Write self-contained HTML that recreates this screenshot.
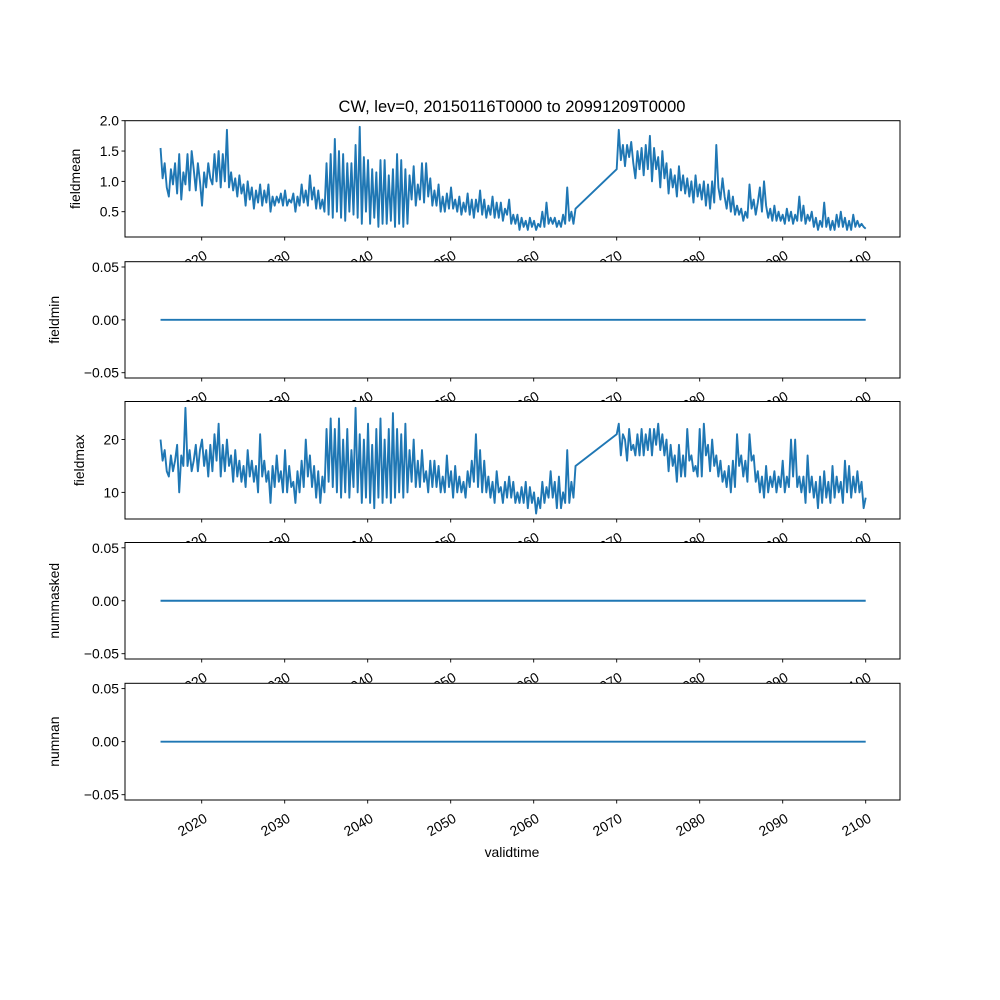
<!DOCTYPE html>
<html><head><meta charset="utf-8"><style>
html,body{margin:0;padding:0;background:#fff;}
svg{display:block;font-family:"Liberation Sans","DejaVu Sans",sans-serif;}
</style></head><body>
<svg id="fig" width="1000" height="1000" viewBox="0 0 1000 1000"></svg>
<script>
// ---- data ----
const seg1Start = 2015.04, seg2Start = 2070.0, stepYears = 0.25, endYear = 2100.0;
const xTicks = [2020, 2030, 2040, 2050, 2060, 2070, 2080, 2090, 2100];
const xTickLabels = ["2020","2030","2040","2050","2060","2070","2080","2090","2100"];
const meanSeg1 = [
1.55,1.05,1.3,0.9, 0.75,1.2,0.95,1.3, 0.8,1.45,0.7,1.15, 0.95,1.45,0.85,1.5, 1.2,0.85,1.3,1.0,
0.6,1.15,0.9,1.3, 1.05,0.95,1.45,1.0, 1.5,0.9,1.45,1.0, 1.85,0.9,1.15,0.85, 1.05,0.75,1.1,0.8,
0.95,0.6,1.0,0.7, 0.9,0.55,0.85,0.65, 0.95,0.6,0.85,0.65, 0.95,0.5,0.75,0.6, 0.75,0.65,0.8,0.6,
0.85,0.6,0.7,0.65, 0.8,0.5,0.75,0.6, 0.95,0.65,0.85,0.6, 1.1,0.7,0.9,0.55, 0.85,0.55,0.7,0.5,
1.3,0.45,1.45,0.4, 1.7,0.5,1.5,0.4, 1.45,0.35,1.3,0.5, 1.3,0.45,1.6,0.4, 1.9,0.3,1.4,0.5,
1.35,0.3,1.2,0.4, 1.15,0.25,1.35,0.3, 1.35,0.3,1.1,0.35, 1.2,0.25,1.45,0.3, 1.35,0.25,1.2,0.3,
1.1,0.7,1.25,0.6, 0.95,0.7,1.3,0.65, 1.3,0.75,1.05,0.6, 0.85,0.6,0.95,0.5, 0.75,0.5,0.8,0.55,
0.9,0.55,0.7,0.5, 0.75,0.45,0.65,0.5, 0.8,0.45,0.7,0.4, 0.7,0.5,0.85,0.45, 0.7,0.4,0.6,0.45,
0.75,0.4,0.65,0.4, 0.65,0.35,0.55,0.45, 0.7,0.3,0.45,0.3, 0.45,0.2,0.4,0.25, 0.35,0.2,0.4,0.25,
0.35,0.2,0.3,0.25, 0.5,0.25,0.65,0.3, 0.4,0.3,0.4,0.25, 0.35,0.25,0.45,0.3, 0.9,0.35,0.5,0.3,
0.55];
const meanSeg2 = [
1.2,1.85,1.35,1.6, 1.25,1.6,1.4,1.65, 1.3,1.05,1.5,1.2, 1.55,1.1,1.6,1.2, 1.75,1.0,1.55,1.2,
1.4,0.9,1.5,1.05, 1.3,0.8,1.2,0.9, 1.1,0.75,1.25,0.85, 1.1,0.8,1.05,0.75, 1.0,0.65,1.1,0.75,
0.95,0.7,1.0,0.6, 0.95,0.55,1.0,0.65, 1.6,0.9,0.7,1.05, 0.75,0.55,0.85,0.5, 0.75,0.45,0.6,0.45,
0.55,0.35,0.5,0.4, 0.95,0.55,0.7,0.45, 0.65,0.9,0.5,1.0, 0.6,0.4,0.55,0.35, 0.6,0.35,0.5,0.35,
0.45,0.3,0.55,0.35, 0.5,0.3,0.45,0.35, 0.75,0.35,0.6,0.3, 0.45,0.35,0.5,0.25, 0.4,0.2,0.35,0.25,
0.65,0.25,0.4,0.2, 0.35,0.2,0.45,0.25, 0.5,0.25,0.4,0.2, 0.35,0.2,0.45,0.25, 0.35,0.25,0.3,0.25,
0.22];
const maxSeg1 = [
20,16,18,14, 13,17,14,16, 19,10,17,15, 26,15,18,14, 16,19,14,18,
20,15,18,13, 19,14,21,16, 23,13,19,14, 20,15,17,12, 18,13,16,12,
15,11,18,13, 16,12,15,10, 21,13,16,12, 14,8,15,11, 17,12,14,10,
18,10,15,11, 12,8,14,10, 16,11,20,13, 17,11,15,9, 14,8,13,10,
22,12,24,11, 22,10,24,9, 20,10,22,9, 18,11,26,10, 21,8,20,9,
23,8,19,7, 22,9,24,8, 20,9,22,8, 25,9,22,10, 21,9,23,10,
18,12,20,11, 16,11,18,12, 14,10,16,11, 16,11,15,10, 13,10,17,11,
14,9,15,10, 13,10,12,9, 14,11,16,12, 21,11,18,10, 16,10,13,9,
12,8,14,10, 11,8,12,9, 13,9,12,8, 10,8,11,8, 12,7,11,8,
10,6,9,7, 12,8,11,9, 14,9,12,7, 13,7,10,8, 18,8,12,9,
15];
const maxSeg2 = [
21,23,17,21, 20,16,22,18, 19,17,21,17, 22,17,21,18, 22,17,22,19,
23,18,21,17, 20,14,19,15, 17,12,19,13, 17,13,22,16, 17,14,15,13,
22,13,23,17, 19,14,20,15, 17,13,16,12, 14,11,15,10, 16,11,21,15,
17,13,16,12, 21,16,17,12, 14,10,13,9, 15,10,13,11, 14,10,13,11,
16,10,13,11, 20,13,20,11, 13,10,13,8, 17,10,13,9, 12,7,13,8,
14,9,12,8, 15,9,13,10, 12,8,16,10, 15,9,13,10, 14,10,12,7,
9];
const zeroValues = [0, 0];
const zeroYears = [2015.04, 2100.0];
const meanTicks = [0.5, 1.0, 1.5, 2.0];
const meanTickLabels = ["0.5","1.0","1.5","2.0"];
const maxTicks = [10, 20];
const maxTickLabels = ["10","20"];
const zeroTicks = [-0.05, 0, 0.05];
const zeroTickLabels = ["\u22120.05","0.00","0.05"];

// ---- layout ----
const NS = "http://www.w3.org/2000/svg";
const svg = document.getElementById("fig");
const AX_L = 125, AX_R = 900;
function xScale(yr){ return 201.7 + (yr - 2020) * 8.3; }
function mk(tag, attrs, parent){
  const e = document.createElementNS(NS, tag);
  for (const k in attrs) e.setAttribute(k, attrs[k]);
  (parent || svg).appendChild(e);
  return e;
}
function seriesPts(vals, start, yS){
  return vals.map((v,i)=> xScale(Math.min(start + i*stepYears, endYear)).toFixed(2) + "," + yS(v).toFixed(2));
}

const panels = [
  {name:"fieldmean", top:120.7, bot:237, ymin:0.083, ymax:2.0, ticks:meanTicks, labels:meanTickLabels, ylabX:80},
  {name:"fieldmin", top:261.7, bot:378, ymin:-0.055, ymax:0.055, ticks:zeroTicks, labels:zeroTickLabels, ylabX:59},
  {name:"fieldmax", top:401.5, bot:519, ymin:4.96, ymax:27.2, ticks:maxTicks, labels:maxTickLabels, ylabX:84},
  {name:"nummasked", top:542.5, bot:659, ymin:-0.055, ymax:0.055, ticks:zeroTicks, labels:zeroTickLabels, ylabX:59},
  {name:"numnan", top:683.3, bot:800, ymin:-0.055, ymax:0.055, ticks:zeroTicks, labels:zeroTickLabels, ylabX:59}
];

mk("rect",{x:0,y:0,width:1000,height:1000,fill:"#fff"});
const title = mk("text",{x:512,y:112,"text-anchor":"middle","font-size":"16.5",fill:"#000"});
title.textContent = "CW, lev=0, 20150116T0000 to 20991209T0000";



panels.forEach((p, idx) => {
  const g = mk("g", {});
  
  
  const yS = v => p.bot - (v - p.ymin) / (p.ymax - p.ymin) * (p.bot - p.top);
  mk("rect",{x:AX_L,y:p.top,width:AX_R-AX_L,height:p.bot-p.top,fill:"#fff"}, g);
  const lines = [];
  if (idx === 0) lines.push(seriesPts(meanSeg1, seg1Start, yS).concat(seriesPts(meanSeg2, seg2Start, yS)));
  else if (idx === 2) lines.push(seriesPts(maxSeg1, seg1Start, yS).concat(seriesPts(maxSeg2, seg2Start, yS)));
  else lines.push(zeroYears.map((yr,i)=> xScale(yr).toFixed(2)+","+yS(zeroValues[i]).toFixed(2)));
  lines.forEach(pts => {
    const pl = mk("polyline",{points:pts.join(" "),fill:"none",stroke:"#1f77b4","stroke-width":"1.9","stroke-linejoin":"round"}, g);
    
    
  });
  mk("rect",{x:AX_L,y:p.top,width:AX_R-AX_L,height:p.bot-p.top,fill:"none",stroke:"#000","stroke-width":"1"}, g);
  p.ticks.forEach((t,i) => {
    const y = yS(t);
    mk("line",{x1:AX_L-3.5,x2:AX_L,y1:y,y2:y,stroke:"#000","stroke-width":"0.9"}, g);
    const tl = mk("text",{x:AX_L-6,y:y+5,"text-anchor":"end","font-size":"13.9",fill:"#000"}, g);
    tl.textContent = p.labels[i];
    
    
  });
  const yl = mk("text",{transform:`translate(${p.ylabX},${(p.top+p.bot)/2}) rotate(-90)`,"text-anchor":"middle","font-size":"13.9",fill:"#000"}, g);
  yl.textContent = p.name;
  
  
  xTicks.forEach((t,i) => {
    const x = xScale(t);
    mk("line",{x1:x,x2:x,y1:p.bot,y2:p.bot+3.5,stroke:"#000","stroke-width":"0.9"}, g);
    const xl = mk("text",{transform:`translate(${x+1.5},${p.bot+12.5}) rotate(-30)`,x:0,y:10,"text-anchor":"end","font-size":"13.9",fill:"#000"}, g);
    xl.textContent = xTickLabels[i];
    
    
  });
});
const xlab = mk("text",{x:512,y:857,"text-anchor":"middle","font-size":"13.9",fill:"#000"});
xlab.textContent = "validtime";


</script>
</body></html>
